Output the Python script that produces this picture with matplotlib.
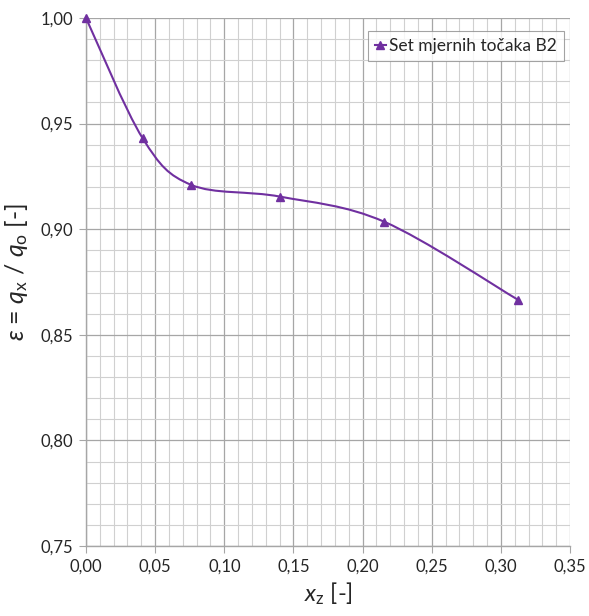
import numpy as np
import matplotlib
matplotlib.use("Agg")
import matplotlib.pyplot as plt
from matplotlib.path import Path
from matplotlib.patches import PathPatch
from matplotlib.lines import Line2D
from matplotlib.ticker import MultipleLocator, FuncFormatter

# measured points (set B2)
x_z = [0.0, 0.041, 0.076, 0.1405, 0.2157, 0.312]
eps = [1.000, 0.943, 0.921, 0.9154, 0.9035, 0.8667]
series_name = "Set mjernih točaka B2"

purple = "#7030A0"

plt.rcParams['font.family'] = ['Lato', 'DejaVu Sans']
plt.rcParams['mathtext.fontset'] = 'custom'
plt.rcParams['mathtext.it'] = 'Lato:italic'
plt.rcParams['mathtext.rm'] = 'Lato'

fig = plt.figure(figsize=(5.89, 6.16), dpi=100)
ax = fig.add_axes([0.146, 0.1136, 0.822, 0.8572])

# smoothed line like a spreadsheet "smooth line" (bezier through the points)
pts = np.column_stack([x_z, eps])
n = len(pts)
verts = [tuple(pts[0])]
codes = [Path.MOVETO]
for i in range(n - 1):
    p0 = pts[max(i - 1, 0)]
    p1 = pts[i]
    p2 = pts[i + 1]
    p3 = pts[min(i + 2, n - 1)]
    c1 = p1 + (p2 - p0) / 6.0
    c2 = p2 - (p3 - p1) / 6.0
    verts += [tuple(c1), tuple(c2), tuple(p2)]
    codes += [Path.CURVE4] * 3
curve = PathPatch(Path(verts, codes), facecolor='none', edgecolor=purple,
                  lw=1.5, zorder=3)
ax.add_patch(curve)
ax.plot(x_z, eps, linestyle='none', marker='^', ms=6, color=purple,
        zorder=4, clip_on=False)

ax.set_xlim(0, 0.35)
ax.set_ylim(0.75, 1.0)
ax.xaxis.set_major_locator(MultipleLocator(0.05))
ax.xaxis.set_minor_locator(MultipleLocator(0.01))
ax.yaxis.set_major_locator(MultipleLocator(0.05))
ax.yaxis.set_minor_locator(MultipleLocator(0.01))
fmt = FuncFormatter(lambda v, p: f"{v:.2f}".replace('.', ','))
ax.xaxis.set_major_formatter(fmt)
ax.yaxis.set_major_formatter(fmt)

ax.grid(which='major', color='#a6a6a6', lw=0.9)
ax.grid(which='minor', color='#d0d0d0', lw=0.8)
ax.set_axisbelow(True)

for s in ['top', 'right']:
    ax.spines[s].set_visible(False)
for s in ['left', 'bottom']:
    ax.spines[s].set_color('#a6a6a6')
    ax.spines[s].set_linewidth(1.0)
ax.tick_params(which='major', length=5, color='#a6a6a6', labelsize=12,
               labelcolor='#262626', pad=4)
ax.tick_params(which='minor', length=0)

ax.set_xlabel(r'$x_{\mathrm{z}}$ [-]', fontsize=17, color='#262626', labelpad=4)
ax.set_ylabel(r'$\epsilon$ = $q_{\mathrm{x}}$ / $q_{\mathrm{o}}$ [-]', fontsize=18,
              color='#262626', labelpad=5)
ax.yaxis.set_label_coords(-0.115, 0.52)

handle = Line2D([], [], color=purple, marker='^', ms=6, lw=1.5)
leg = ax.legend([handle], [series_name], loc='upper right',
                bbox_to_anchor=(0.987, 0.975), fontsize=12.5, frameon=True,
                fancybox=False, edgecolor='#8c8c8c', handlelength=0.6,
                handletextpad=0.2, borderpad=0.4, borderaxespad=0)
leg.get_frame().set_linewidth(0.8)
for t in leg.get_texts():
    t.set_color('#262626')

fig.savefig('out.png', dpi=100, facecolor='white')
